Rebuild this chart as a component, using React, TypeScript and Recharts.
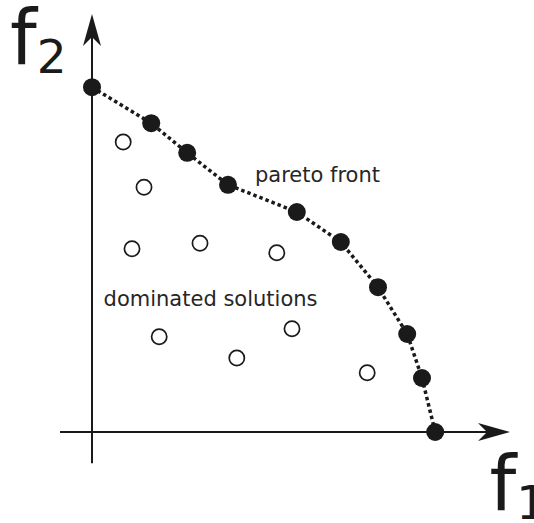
import { ScatterChart, Scatter, XAxis, YAxis, ReferenceLine, ReferenceDot } from 'recharts';

// pareto-optimal points (filled), in axis units
const paretoX = [0, 1.48, 2.38, 3.4, 5.12, 6.22, 7.15, 7.88, 8.25, 8.58];
const paretoY = [8.62, 7.72, 6.98, 6.18, 5.5, 4.75, 3.62, 2.45, 1.35, 0];

// dominated points (open)
const dominatedX = [0.78, 1.3, 1.0, 2.7, 4.62, 1.68, 3.62, 5.0, 6.88];
const dominatedY = [7.25, 6.12, 4.58, 4.72, 4.48, 2.38, 1.85, 2.58, 1.48];

const pareto = paretoX.map((x, i) => ({ x, y: paretoY[i] }));
const dominated = dominatedX.map((x, i) => ({ x, y: dominatedY[i] }));

const INK = '#1a1a1a';
const FONT = '"DejaVu Sans", sans-serif';

// axis line with a notched arrow head at the (x2, y2) end
const Arrow = (props: any) => {
  const { x1, y1, x2, y2 } = props;
  const dx = x2 - x1;
  const dy = y2 - y1;
  const len = Math.sqrt(dx * dx + dy * dy) || 1;
  const ux = dx / len;
  const uy = dy / len;
  const headLen = 32;
  const notch = 23;
  const half = 9;
  const bx = x2 - ux * headLen;
  const by = y2 - uy * headLen;
  const nx = x2 - ux * notch;
  const ny = y2 - uy * notch;
  const pts = [
    [x2, y2],
    [bx - uy * half, by + ux * half],
    [nx, ny],
    [bx + uy * half, by - ux * half],
  ]
    .map((p) => p.join(','))
    .join(' ');
  return (
    <g>
      <line x1={x1} y1={y1} x2={nx} y2={ny} stroke={INK} strokeWidth={2} />
      <polygon points={pts} fill={INK} />
    </g>
  );
};

const AxisName = (name: string, sub: string) => (props: any) => (
  <text x={props.cx} y={props.cy} fill={INK} fontFamily={FONT} fontSize={76}>
    {name}
    <tspan dy={9} fontSize={47}>
      {sub}
    </tspan>
  </text>
);

const Note = (label: string) => (props: any) => (
  <text x={props.cx} y={props.cy} fill="#262626" fontFamily={FONT} fontSize={21}>
    {label}
  </text>
);

const FilledDot = (props: any) => <circle cx={props.cx} cy={props.cy} r={9} fill={INK} />;
const OpenDot = (props: any) => (
  <circle cx={props.cx} cy={props.cy} r={7.6} fill="#fff" stroke={INK} strokeWidth={1.7} />
);

export default function App() {
  return (
    <div style={{ position: 'absolute', left: 0, top: 0, background: '#fff' }}>
      <ScatterChart width={534} height={523} margin={{ top: 32, right: 42, bottom: 91, left: 92 }}>
        <XAxis type="number" dataKey="x" domain={[0, 10]} hide />
        <YAxis type="number" dataKey="y" domain={[0, 10]} hide />
        <ReferenceLine
          segment={[{ x: 0, y: -0.78 }, { x: 0, y: 10.45 }]}
          ifOverflow="visible"
          shape={Arrow}
        />
        <ReferenceLine
          segment={[{ x: -0.8, y: 0 }, { x: 10.45, y: 0 }]}
          ifOverflow="visible"
          shape={Arrow}
        />
        <Scatter data={dominated} shape={OpenDot} isAnimationActive={false} />
        <Scatter
          data={pareto}
          shape={FilledDot}
          line={{ stroke: INK, strokeWidth: 3.5, strokeDasharray: '3.5 3' }}
          lineType="joint"
          isAnimationActive={false}
        />
        <ReferenceDot x={-2.05} y={9.2} ifOverflow="visible" shape={AxisName('f', '2')} />
        <ReferenceDot x={9.94} y={-1.95} ifOverflow="visible" shape={AxisName('f', '1')} />
        <ReferenceDot x={4.075} y={6.25} ifOverflow="visible" shape={Note('pareto front')} />
        <ReferenceDot x={0.29} y={3.15} ifOverflow="visible" shape={Note('dominated solutions')} />
      </ScatterChart>
    </div>
  );
}
